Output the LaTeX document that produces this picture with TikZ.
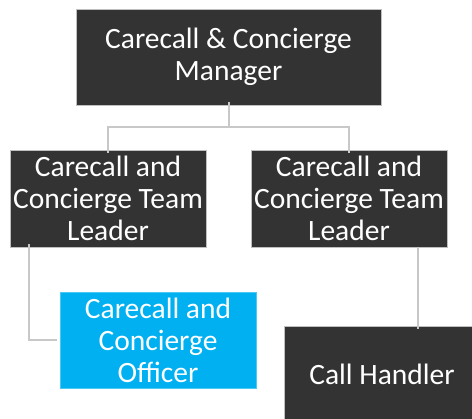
\documentclass[tikz,border=0pt]{standalone}
\usepackage{fontspec}
\setmainfont{Carlito}
\definecolor{boxdark}{HTML}{333333}
\definecolor{boxcyan}{HTML}{00B0F0}
\definecolor{linkgray}{HTML}{C8C8C8}
\begin{document}
\begin{tikzpicture}[x=1pt,y=-1pt,
  role/.style={rectangle, fill=boxdark, draw=white!75!black, line width=0.4pt,
    text=white, align=center, inner sep=0pt, minimum height=96pt,
    font=\fontsize{29.5}{32}\selectfont},
  link/.style={draw=linkgray, line width=2pt}]
\useasboundingbox (0,0) rectangle (472,419);
% reporting boxes
\node[role, minimum width=305pt] (mgr) at (228.5,57) {Carecall \& Concierge\\Manager};
\node[role, minimum width=196pt, minimum height=97pt] (tlA) at (108,198.5) {Carecall and\\Concierge Team\\Leader};
\node[role, minimum width=196pt, minimum height=97pt] (tlB) at (349,198.5) {Carecall and\\Concierge Team\\Leader};
\node[role, fill=boxcyan, draw=boxcyan!70!white, minimum width=196pt] (off) at (158,340) {Carecall and\\Concierge\\Officer};
\begin{scope}
\clip (0,0) rectangle (472,419);
\node[role, minimum width=196pt] (ch) at (382,374) {Call Handler};
\end{scope}
% connectors
\coordinate (bus) at (0,127);
\draw[link] ([yshift=3pt]mgr.south) -- (mgr.south |- bus)
  -- (tlA.north |- bus) -- ([yshift=-3pt]tlA.north);
\draw[link] (mgr.south |- bus) -- (tlB.north |- bus) -- ([yshift=-3pt]tlB.north);
\coordinate (aDrop) at (29,0);
\draw[link] ([yshift=3pt]tlA.south -| aDrop) -- (aDrop |- off.center) -- ([xshift=-3pt]off.west);
\coordinate (bDrop) at (418,0);
\draw[link, line width=1.5pt] (tlB.south -| bDrop) -- ([yshift=-3pt]bDrop |- ch.north);
\end{tikzpicture}
\end{document}
